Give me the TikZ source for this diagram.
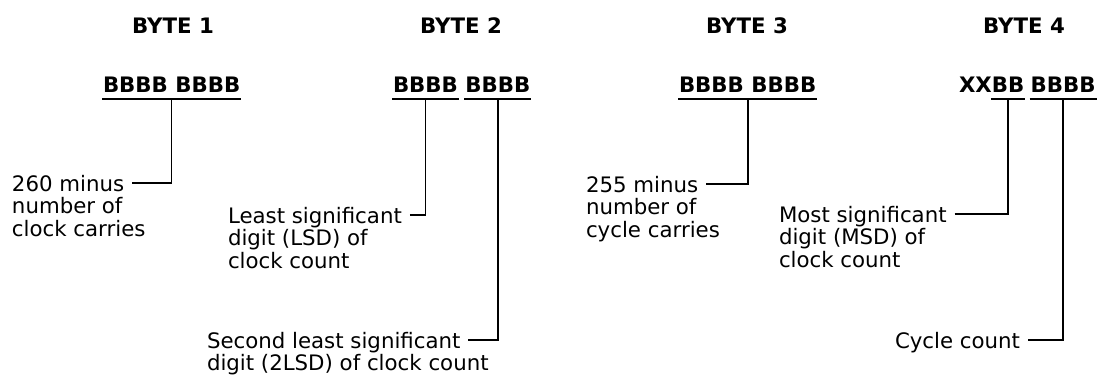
\documentclass[tikz,border=0pt]{standalone}
\usepackage{fontspec}
\setmainfont{DejaVu Sans}
\begin{document}
\begin{tikzpicture}[x=1pt,y=-1pt,
  every node/.style={inner sep=0pt, outer sep=0pt, font=\fontsize{21.3}{22.5}\selectfont},
  hdr/.style={font=\fontsize{21.3}{22.5}\selectfont\bfseries, anchor=base},
  bits/.style={font=\fontsize{21.3}{22.5}\selectfont\bfseries, anchor=base west},
  lbl/.style={anchor=base west},
  wire/.style={line width=1.7pt, line join=miter},
  uline/.style={line width=2pt}]
\useasboundingbox (0,0) rectangle (1101,386);

% headers
\node[hdr] (h1) at (173,33) {BYTE 1};
\node[hdr] (h2) at (461,33) {BYTE 2};
\node[hdr] (h3) at (747,33) {BYTE 3};
\node[hdr] (h4) at (1024,33) {BYTE 4};

% bit strings
\node[bits] (b1) at (103,92) {BBBB BBBB};
\node[bits] (b2a) at (393,92) {BBBB};
\node[bits] (b2b) at ([xshift=7.4pt]b2a.base east) {BBBB};
\node[bits] (b3) at (679,92) {BBBB BBBB};
\node[bits] (b4x) at (959,92) {XX};
\node[bits] (b4a) at (b4x.base east) {BB};
\node[bits] (b4b) at ([xshift=6.4pt]b4a.base east) {BBBB};

% underlines
\foreach \n in {b1,b2a,b2b,b3,b4a,b4b}
  \draw[uline] ([xshift=-1pt,yshift=-7pt]\n.base west) -- ([xshift=1pt,yshift=-7pt]\n.base east);

% labels
\node[lbl] (t1a) at (12,191) {260 minus};
\node[lbl] (t1b) at (12,213.5) {number of};
\node[lbl] (t1c) at (12,236) {clock carries};

\node[lbl] (t2a) at (228,223) {Least significant};
\node[lbl] (t2b) at (228,245.5) {digit (LSD) of};
\node[lbl] (t2c) at (228,268) {clock count};

\node[lbl] (t5a) at (207,348) {Second least significant};
\node[lbl] (t5b) at (207,370.5) {digit (2LSD) of clock count};

\node[lbl] (t3a) at (586,192) {255 minus};
\node[lbl] (t3b) at (586,214.5) {number of};
\node[lbl] (t3c) at (586,237) {cycle carries};

\node[lbl] (t4a) at (779,222) {Most significant};
\node[lbl] (t4b) at (779,244.5) {digit (MSD) of};
\node[lbl] (t4c) at (779,267) {clock count};

\node[lbl] (t6a) at (895,348) {Cycle count};

% connectors
\coordinate (e1) at ([xshift=8pt,yshift=8pt]t1a.base east);
\coordinate (e2) at ([xshift=8pt,yshift=8pt]t2a.base east);
\coordinate (e5) at ([xshift=8pt,yshift=8pt]t5a.base east);
\coordinate (e3) at ([xshift=8pt,yshift=8pt]t3a.base east);
\coordinate (e4) at ([xshift=8pt,yshift=8pt]t4a.base east);
\coordinate (e6) at ([xshift=8pt,yshift=8pt]t6a.base east);

\draw[wire] (e1) -| ([yshift=-7pt]b1.base);
\draw[wire] (e2) -| ([yshift=-7pt]b2a.base);
\draw[wire] (e5) -| ([yshift=-7pt]b2b.base);
\draw[wire] (e3) -| ([yshift=-7pt]b3.base);
\draw[wire] (e4) -| ([yshift=-7pt]b4a.base);
\draw[wire] (e6) -| ([yshift=-7pt]b4b.base);
\end{tikzpicture}
\end{document}
